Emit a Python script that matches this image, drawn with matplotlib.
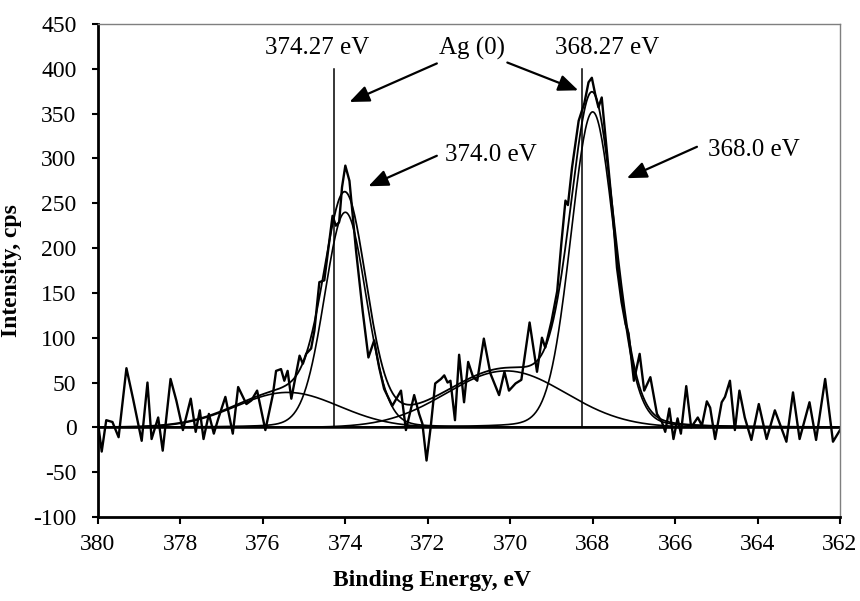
import numpy as np
import matplotlib
matplotlib.use("Agg")
import matplotlib.pyplot as plt

plt.rcParams['font.family'] = ['Liberation Serif', 'DejaVu Serif']
plt.rcParams['axes.unicode_minus'] = False

# measured Ag 3d spectrum (binding energy in eV, intensity in cps)
be_raw = [380.00, 379.91, 379.80, 379.65, 379.50, 379.31, 379.15, 378.94, 378.80, 378.70,
          378.54, 378.43, 378.24, 378.10, 377.94, 377.75, 377.63, 377.53, 377.44, 377.31,
          377.19, 377.08, 376.91, 376.73, 376.60, 376.40, 376.28, 376.14, 375.94, 375.76,
          375.68, 375.56, 375.48, 375.40, 375.31, 375.11, 375.03, 374.95, 374.83, 374.75,
          374.63, 374.51, 374.31, 374.23, 374.15, 374.08, 374.00, 373.90, 373.74, 373.58,
          373.44, 373.30, 373.18, 373.06, 372.86, 372.65, 372.53, 372.33, 372.21, 372.13,
          372.03, 371.93, 371.82, 371.68, 371.60, 371.52, 371.45, 371.34, 371.24, 371.12,
          371.02, 370.90, 370.80, 370.64, 370.48, 370.27, 370.14, 370.03, 369.87, 369.73,
          369.53, 369.35, 369.23, 369.15, 369.00, 368.86, 368.76, 368.66, 368.60, 368.50,
          368.34, 368.20, 368.10, 368.02, 367.94, 367.86, 367.78, 367.70, 367.61, 367.50,
          367.41, 367.30, 367.20, 367.13, 367.00, 366.86, 366.75, 366.60, 366.44, 366.32,
          366.24, 366.14, 366.04, 365.94, 365.86, 365.73, 365.61, 365.45, 365.35, 365.23,
          365.15, 365.03, 364.87, 364.79, 364.67, 364.55, 364.44, 364.31, 364.15, 363.97,
          363.78, 363.58, 363.30, 363.14, 362.98, 362.74, 362.58, 362.36, 362.17, 362.00]
cps_raw = [5, -27, 8, 6, -11, 66, 32, -15, 50, -13,
           11, -26, 54, 30, -3, 32, -5, 19, -13, 15,
           -7, 10, 34, -7, 45, 26, 30, 41, -3, 36,
           63, 65, 52, 63, 32, 80, 71, 82, 88, 108,
           162, 164, 236, 225, 229, 268, 292, 275, 197, 130,
           78, 97, 67, 43, 24, 41, -3, 36, 15, 4,
           -37, 0, 49, 54, 58, 50, 52, 8, 81, 28,
           73, 56, 52, 99, 60, 36, 62, 41, 49, 53,
           117, 62, 100, 89, 118, 152, 205, 253, 248, 290,
           342, 362, 385, 390, 372, 357, 368, 330, 286, 232,
           178, 140, 115, 105, 52, 82, 41, 56, 15, 6,
           -5, 21, -13, 10, -7, 46, 0, 11, 2, 29,
           22, -13, 28, 34, 52, -3, 41, 11, -14, 26,
           -13, 19, -16, 39, -13, 28, -14, 54, -16, -3]

# fitted components: centre (eV), height (cps), FWHM (eV), Lorentzian fraction
fit_centre = [374.0, 368.0, 375.4, 370.1]
fit_height = [240, 352, 39, 63]
fit_fwhm = [1.2, 1.25, 2.94, 3.41]
fit_eta = [0.1, 0.1, 0.0, 0.0]

# reference positions of metallic Ag (0)
ref_lines = [374.27, 368.27]
ref_top = 400


def pseudo_voigt(x, c, h, w, eta):
    sig = w / 2.3548
    g = np.exp(-(x - c) ** 2 / (2 * sig ** 2))
    l = (w / 2) ** 2 / ((x - c) ** 2 + (w / 2) ** 2)
    return h * ((1 - eta) * g + eta * l)


be = np.linspace(380, 362, 721)
comps = [pseudo_voigt(be, c, h, w, e)
         for c, h, w, e in zip(fit_centre, fit_height, fit_fwhm, fit_eta)]
envelope = np.sum(comps, axis=0)

fig = plt.figure(figsize=(8.6, 6.01), dpi=100)
ax = fig.add_axes([0.11395, 0.13977, 0.86279, 0.82030])

ax.plot(be, np.zeros_like(be), color='black', lw=1.8)
for y in comps:
    ax.plot(be, y, color='black', lw=1.2)
ax.plot(be, envelope, color='black', lw=1.3)
ax.plot(be_raw, cps_raw, color='black', lw=1.7, solid_joinstyle='round')
for xv in ref_lines:
    ax.plot([xv, xv], [0, ref_top], color='black', lw=1.1)

ax.set_xlim(380, 362)
ax.set_ylim(-100, 450)
ax.set_xticks(np.arange(380, 361, -2))
ax.set_yticks(np.arange(-100, 451, 50))

for s in ['left', 'bottom']:
    ax.spines[s].set_linewidth(2)
    ax.spines[s].set_color('black')
for s in ['top', 'right']:
    ax.spines[s].set_linewidth(1)
    ax.spines[s].set_color('#7f7f7f')

ax.tick_params(axis='y', direction='out', length=4.5, width=1.5, pad=11, labelsize=17)
ax.tick_params(axis='x', direction='out', length=5, width=1.5, pad=7, labelsize=17)

ax.set_xlabel('Binding Energy, eV', fontsize=17, fontweight='bold')
ax.set_ylabel('Intensity, cps', fontsize=17, fontweight='bold')
ax.xaxis.set_label_coords(0.45, -0.108)
ax.yaxis.set_label_coords(-0.102, 0.5)

arrow = dict(arrowstyle='-|>,head_length=0.6,head_width=0.25', color='black',
             lw=1.6, mutation_scale=20, shrinkA=0, shrinkB=0)

ax.text(374.69, 423, '374.27 eV', fontsize=18, ha='center', va='center')
ax.text(367.65, 423, '368.27 eV', fontsize=18, ha='center', va='center')
ax.text(370.93, 423, 'Ag (0)', fontsize=18, ha='center', va='center')
ax.annotate('', xy=(373.90, 363), xytext=(371.78, 406), arrowprops=arrow)
ax.annotate('', xy=(368.35, 376), xytext=(370.07, 407), arrowprops=arrow)

ax.text(370.47, 304, '374.0 eV', fontsize=18, ha='center', va='center')
ax.annotate('', xy=(373.44, 269), xytext=(371.78, 303), arrowprops=arrow)

ax.text(364.09, 309, '368.0 eV', fontsize=18, ha='center', va='center')
ax.annotate('', xy=(367.17, 278), xytext=(365.47, 313), arrowprops=arrow)

fig.savefig('out.png', dpi=100)
